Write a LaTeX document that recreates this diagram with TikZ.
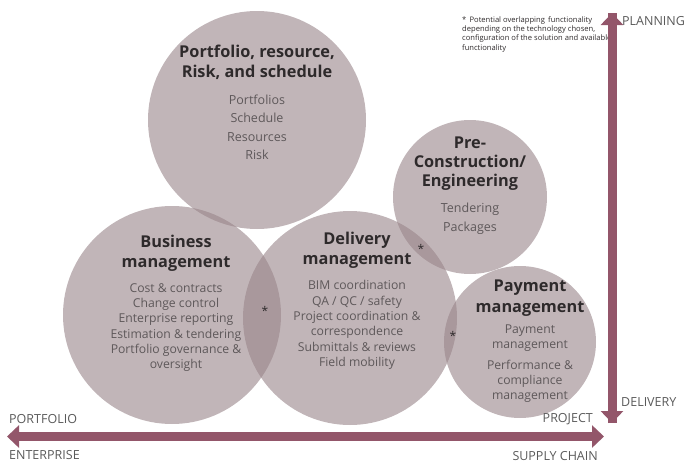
\documentclass[tikz,border=0pt]{standalone}
\usepackage{fontspec}
\setmainfont{Open Sans}
\usetikzlibrary{arrows.meta}
\definecolor{blobc}{HTML}{988489}
\definecolor{arrc}{HTML}{93566A}
\definecolor{titc}{HTML}{2E2A2B}
\definecolor{itmc}{HTML}{5E585A}
\definecolor{labc}{HTML}{5A5A5A}
\tikzset{
  blob/.style={circle, fill=blobc, fill opacity=0.6, draw=none, inner sep=0pt},
  ttl/.style={font=\fontsize{16.3}{20.5}\selectfont\bfseries, text=titc, align=center, inner sep=0pt},
  itm/.style={font=\fontsize{12.2}{15.3}\selectfont, text=itmc, align=center, inner sep=0pt},
  itmw/.style={font=\fontsize{12.5}{18.5}\selectfont, text=itmc, align=center, inner sep=0pt},
  axl/.style={font=\fontsize{12.5}{13}\selectfont, text=labc, inner sep=0pt},
  star/.style={font=\fontsize{12}{12}\selectfont, text=titc, inner sep=0pt},
  bigarrow/.style={draw=arrc, line width=9pt, -{Triangle[length=12pt,width=22pt]}},
  bigarrows/.style={draw=arrc, line width=9pt, {Triangle[length=12pt,width=22pt]}-{Triangle[length=12pt,width=22pt]}}
}
\begin{document}
\begin{tikzpicture}[x=1pt,y=-1pt]
\useasboundingbox (0,0) rectangle (686,463);
% circles
\node[blob, minimum size=218pt] (port) at (257,120) {};
\node[blob, minimum size=218pt] (bus) at (172,315) {};
\node[blob, minimum size=214pt] (del) at (350,318) {};
\node[blob, minimum size=154pt] (pre) at (470,197) {};
\node[blob, minimum size=152pt] (pay) at (520,342) {};
% titles
\node[ttl] (portT) at (257,62.5) {Portfolio, resource,\\Risk, and schedule};
\node[ttl] (busT) at (176,253.5) {Business\\management};
\node[ttl] (delT) at (357,250.5) {Delivery\\management};
\node[ttl, font=\fontsize{16.3}{18.8}\selectfont\bfseries] (preT) at (470,163.5) {Pre-\\Construction/\\Engineering};
\node[ttl] (payT) at (530,298) {Payment\\management};
% items
\node[itmw] (portI) at (257,127.5) {Portfolios\\Schedule\\Resources\\Risk};
\node[itm] (busI) at (176,327.5) {Cost \& contracts\\Change control\\Enterprise reporting\\Estimation \& tendering\\Portfolio governance \&\\oversight};
\node[itm] (delI) at (357,325) {BIM coordination\\QA / QC / safety\\Project coordination \&\\correspondence\\Submittals \& reviews\\Field mobility};
\node[itmw] (preI) at (470,219) {Tendering\\Packages};
\node[itm, font=\fontsize{12.2}{15.5}\selectfont] (payI1) at (530,338) {Payment\\management};
\node[itm, font=\fontsize{12.2}{15}\selectfont] (payI2) at (530,381) {Performance \&\\compliance\\management};
% stars
\node[star] (s1) at (265,311) {*};
\node[star] (s2) at (421,249) {*};
\node[star] (s3) at (453,336) {*};
% note
\node[anchor=north west, align=left, inner sep=0pt, text=titc, font=\fontsize{7.6}{9.4}\selectfont] (note) at (462,16) {*\, Potential overlapping\, functionality\\depending on the technology chosen,\\configuration of the solution and available\\functionality};
% axes
\coordinate (vtop) at (612,13);
\coordinate (vbot) at (612,423);
\coordinate (hl) at (7,436.5);
\coordinate (hr) at (604,436.5);
\draw[bigarrow] (vbot) -- (vtop);
\draw[bigarrow] (vtop) -- (vbot);
\draw[bigarrows] (hl) -- (hr);
% labels
\node[axl, anchor=west] (plan) at (622,21) {PLANNING};
\node[axl, anchor=west] (deliv) at (621,402) {DELIVERY};
\node[axl, anchor=west] (portf) at (9,419) {PORTFOLIO};
\node[axl, anchor=east] (proj) at (593,419) {PROJECT};
\node[axl, anchor=west] (ent) at (9,455) {ENTERPRISE};
\node[axl, anchor=east] (sup) at (598,456) {SUPPLY CHAIN};
\end{tikzpicture}
\end{document}
